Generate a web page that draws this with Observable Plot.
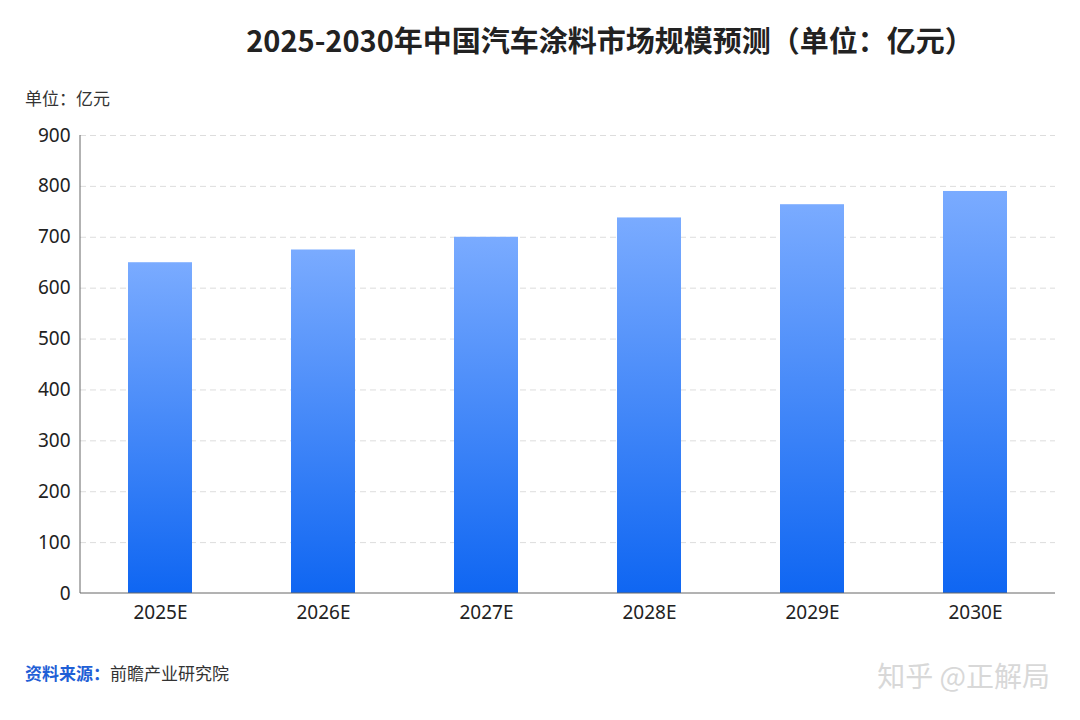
<!DOCTYPE html>
<html><head><meta charset="utf-8">
<script src="https://cdn.jsdelivr.net/npm/d3@7"></script>
<script src="https://cdn.jsdelivr.net/npm/@observablehq/plot@0.6"></script>
<style>
body{margin:0;width:1080px;height:720px;background:#fff;font-family:"Noto Sans CJK SC","Noto Sans",sans-serif;position:relative;overflow:hidden}
#title{position:absolute;top:18px;left:130px;width:960px;text-align:center;font-size:29px;font-weight:bold;color:#222}
#unit{position:absolute;top:85px;left:25px;font-size:17px;color:#333}
#chart{position:absolute;top:110px;left:0}
#src{position:absolute;top:660px;left:25px;font-size:17px;color:#333}
#src b{color:#1f5fd6;font-weight:bold}
#wm{position:absolute;top:655px;right:30px;font-size:28px;color:#d8d8d8}
</style></head><body>
<div id="title">2025-2030年中国汽车涂料市场规模预测（单位：亿元）</div>
<div id="unit">单位：亿元</div>
<div id="chart"></div>
<div id="src"><b>资料来源：</b>前瞻产业研究院</div>
<div id="wm">知乎 @正解局</div>
<script>
const years=["2025E","2026E","2027E","2028E","2029E","2030E"];
const values=[650,675,700,738,764,790];
const yTicks=[0,100,200,300,400,500,600,700,800,900];
const data=years.map((y,i)=>({year:y,value:values[i]}));
const chart=Plot.plot({
 width:1080,height:520,marginTop:25,marginBottom:37,marginLeft:80,marginRight:25,
 style:{fontSize:"19px",fontFamily:"Noto Sans, sans-serif",color:"#222"},
 x:{domain:years,paddingInner:0.61,paddingOuter:0.28,label:null,tickSize:0,tickPadding:12},
 y:{domain:[0,900],ticks:yTicks,label:null,tickSize:0,tickPadding:10},
 marks:[
  Plot.gridY(yTicks.filter(t=>t>0),{stroke:"#ddd",strokeOpacity:1,strokeDasharray:"6,4"}),
  Plot.barY(data,{x:"year",y:"value",fill:"url(#bg)"})
 ]
});
document.getElementById("chart").appendChild(chart);
const svg=d3.select(chart);
const x0=80,yb=483,yt=25;
svg.append("line").attr("x1",x0).attr("x2",x0).attr("y1",yt).attr("y2",yb).attr("stroke","#666");
svg.append("line").attr("x1",x0).attr("x2",1055).attr("y1",yb).attr("y2",yb).attr("stroke","#666");
const g=svg.insert("defs",":first-child").append("linearGradient").attr("id","bg").attr("x1",0).attr("x2",0).attr("y1",0).attr("y2",1);
g.append("stop").attr("offset","0%").attr("stop-color","#7aabff");
g.append("stop").attr("offset","100%").attr("stop-color","#0f66f2");
</script></body></html>
